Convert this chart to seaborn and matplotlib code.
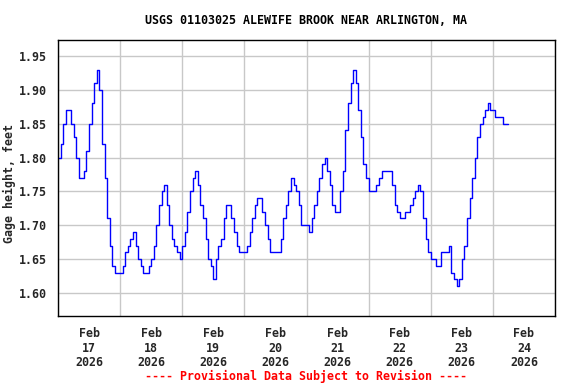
import pandas as pd
import seaborn as sns
import matplotlib
matplotlib.use("Agg")
import matplotlib.pyplot as plt
import matplotlib.dates as mdates

# ===============================
# Data (hourly gage height, feet)
# ===============================
start_time = "2026-02-17 00:00"
gage_height = [
    1.80, 1.82, 1.85, 1.87, 1.87, 1.85, 1.83, 1.80, 1.77, 1.77,
    1.78, 1.81, 1.85, 1.88, 1.91, 1.93, 1.90, 1.82, 1.77, 1.71,
    1.67, 1.64, 1.63, 1.63, 1.63, 1.64, 1.66, 1.67, 1.68, 1.69,
    1.67, 1.65, 1.64, 1.63, 1.63, 1.64, 1.65, 1.67, 1.70, 1.73,
    1.75, 1.76, 1.73, 1.70, 1.68, 1.67, 1.66, 1.65, 1.67, 1.69,
    1.72, 1.75, 1.77, 1.78, 1.76, 1.73, 1.71, 1.68, 1.65, 1.64,
    1.62, 1.65, 1.67, 1.68, 1.71, 1.73, 1.73, 1.71, 1.69, 1.67,
    1.66, 1.66, 1.66, 1.67, 1.69, 1.71, 1.73, 1.74, 1.74, 1.72,
    1.70, 1.68, 1.66, 1.66, 1.66, 1.66, 1.68, 1.71, 1.73, 1.75,
    1.77, 1.76, 1.75, 1.73, 1.70, 1.70, 1.70, 1.69, 1.71, 1.73,
    1.75, 1.77, 1.79, 1.80, 1.78, 1.76, 1.73, 1.72, 1.72, 1.75,
    1.78, 1.84, 1.88, 1.91, 1.93, 1.91, 1.87, 1.83, 1.79, 1.77,
    1.75, 1.75, 1.75, 1.76, 1.77, 1.78, 1.78, 1.78, 1.78, 1.76,
    1.73, 1.72, 1.71, 1.71, 1.72, 1.72, 1.73, 1.74, 1.75, 1.76,
    1.75, 1.71, 1.68, 1.66, 1.65, 1.65, 1.64, 1.64, 1.66, 1.66,
    1.66, 1.67, 1.63, 1.62, 1.61, 1.62, 1.65, 1.67, 1.71, 1.74,
    1.77, 1.80, 1.83, 1.85, 1.86, 1.87, 1.88, 1.87, 1.87, 1.86,
    1.86, 1.86, 1.85, 1.85, 1.85,
]

title = "USGS 01103025 ALEWIFE BROOK NEAR ARLINGTON, MA"
ylabel = "Gage height, feet"
footer = "---- Provisional Data Subject to Revision ----"
yticks = [1.60, 1.65, 1.70, 1.75, 1.80, 1.85, 1.90, 1.95]

df = pd.DataFrame({
    "time": pd.date_range(start_time, periods=len(gage_height), freq="h"),
    "height": gage_height,
})

# ===============================
# Style
# ===============================
sns.set_theme(style="whitegrid", rc={
    "grid.color": "#c8c8c8",
    "grid.linewidth": 1.0,
    "axes.edgecolor": "black",
    "axes.linewidth": 1.0,
})
plt.rcParams["font.family"] = ["DejaVu Sans Mono"]
plt.rcParams["font.weight"] = "bold"
FS = 8.4

fig = plt.figure(figsize=(5.76, 3.84), dpi=100)
ax = fig.add_axes([58 / 576, 1 - 316 / 384, (555 - 58) / 576, (316 - 40) / 384])

sns.lineplot(data=df, x="time", y="height", ax=ax, color="#0000ff",
             linewidth=1.0, drawstyle="steps-post")

ax.set_xlim(pd.Timestamp("2026-02-17"), pd.Timestamp("2026-02-25"))
ax.set_ylim(1.566, 1.9736)
ax.set_yticks(yticks)
ax.set_yticklabels([f"{v:.2f}" for v in yticks], fontsize=FS, fontweight="bold")

# gridlines at midnight, labels at noon
ax.xaxis.set_major_locator(mdates.DayLocator())
ax.xaxis.set_major_formatter(plt.NullFormatter())
ax.xaxis.set_minor_locator(mdates.HourLocator(byhour=[12]))
ax.xaxis.set_minor_formatter(mdates.DateFormatter("%b\n%d\n%Y"))
ax.tick_params(axis="x", which="both", length=0, pad=8)
ax.tick_params(axis="y", length=0, pad=8)
for lab in ax.get_xticklabels(minor=True):
    lab.set_fontsize(FS)
    lab.set_fontweight("bold")
    lab.set_linespacing(1.15)
ax.grid(True, which="major", axis="both")
ax.grid(False, which="minor")

ax.set_xlabel("")
ax.set_ylabel(ylabel, fontsize=FS, fontweight="bold")
ax.yaxis.set_label_coords(-0.084, 0.48)
for s in ax.spines.values():
    s.set_color("black")

fig.text(306 / 576, 1 - 20 / 384, title, ha="center", va="center",
         fontsize=FS, fontweight="bold", color="black")
fig.text(306 / 576, 1 - 376 / 384, footer, ha="center", va="center",
         fontsize=FS, fontweight="bold", color="#ff0000")

fig.savefig("out.png", dpi=100)
